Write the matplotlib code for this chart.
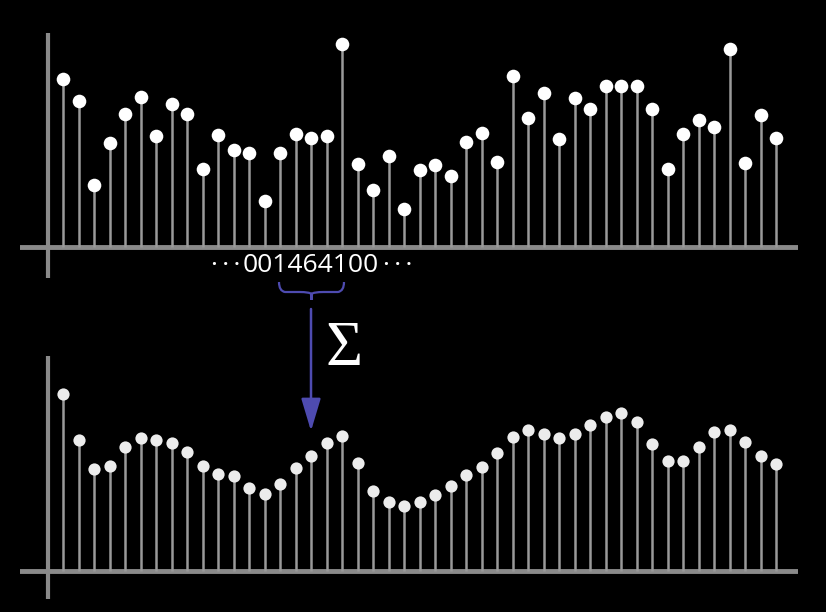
import numpy as np
import matplotlib.pyplot as plt
from matplotlib.path import Path
from matplotlib.patches import PathPatch

# raw signal (top) and smoothed by 1-4-6-4-1 kernel (bottom)
raw = [168, 146, 62, 104, 133, 150, 111, 143, 133, 78, 112, 97, 94, 46, 94, 113,
       109, 111, 203, 83, 57, 91, 38, 77, 82, 71, 105, 114, 85, 171, 129, 154,
       108, 149, 138, 161, 161, 161, 138, 78, 113, 127, 120, 198, 84, 132, 109]
smooth = [177, 131, 102, 105, 124, 133, 131, 128, 119, 105, 97, 95, 83, 77, 87, 103,
          115, 128, 135, 108, 80, 69, 65, 69, 76, 85, 96, 104, 118, 134, 141, 137,
          133, 137, 146, 154, 158, 149, 127, 110, 110, 124, 139, 141, 129, 115, 107]
kernel_txt = "001464100"
dots = "\u00b7\u2009\u00b7\u2009\u00b7"

W, H = 826, 612
fig = plt.figure(figsize=(W / 100, H / 100), dpi=100)
fig.patch.set_facecolor("black")

x = np.arange(len(raw))
grey = "#8a8a8a"
pitch = 15.5  # px between stems


def panel(top_px, bot_px, base_px, vals, mcol, msize):
    ax = fig.add_axes([20 / W, 1 - bot_px / H, 778 / W, (bot_px - top_px) / H])
    ax.set_facecolor("black")
    ax.set_xlim(-(63 - 20) / pitch, 46 + (798 - 776) / pitch)
    ax.set_ylim(-(bot_px - base_px), base_px - top_px)
    ax.axis("off")
    ax.axhline(0, color=grey, lw=3.5, zorder=1)
    ax.axvline(-(63 - 48) / pitch, color=grey, lw=3, zorder=1)
    ax.vlines(x, 0, vals, color="#9a9a9a", lw=1.8, zorder=2)
    ax.plot(x, vals, "o", color=mcol, ms=msize, mec="none", zorder=3)
    return ax


ax1 = panel(33, 278, 246.7, raw, "white", 9.8)
ax2 = panel(356, 599, 570.5, smooth, "#ececec", 8.8)

# overlay in pixel coordinates for the annotation
ov = fig.add_axes([0, 0, 1, 1])
ov.set_xlim(0, W)
ov.set_ylim(H, 0)
ov.axis("off")

fam = ["Open Sans", "DejaVu Sans"]
ov.text(311, 266, kernel_txt, color="white", fontsize=19, family=fam,
        ha="center", va="center")
ov.text(240, 266, dots, color="white", fontsize=19, family=fam,
        ha="right", va="center")
ov.text(383, 266, dots, color="white", fontsize=19, family=fam,
        ha="left", va="center")

purple = "#4e4bb0"
# brace under "14641"
l, r, m = 279, 344, 311.5
y0, y1, y2 = 282, 292, 300
verts = [(l, y0), (l, y1 - 1), (l + 6, y1), (m - 12, y1),
         (m - 2, y1), (m, y1 + 2), (m, y2),
         (m, y1 + 2), (m + 2, y1), (m + 12, y1),
         (r - 6, y1), (r, y1 - 1), (r, y0)]
codes = [Path.MOVETO, Path.CURVE3, Path.CURVE3, Path.LINETO,
         Path.CURVE3, Path.CURVE3, Path.LINETO,
         Path.LINETO, Path.CURVE3, Path.CURVE3,
         Path.LINETO, Path.CURVE3, Path.CURVE3]
ov.add_patch(PathPatch(Path(verts, codes), fc="none", ec=purple, lw=1.6))

ov.annotate("", xy=(311, 431), xytext=(311, 309),
            arrowprops=dict(arrowstyle="-|>,head_length=2.0,head_width=0.6",
                            color=purple, lw=1.8, shrinkA=0, shrinkB=0))

ov.text(344, 350, "\u03a3", color="white", fontsize=46, family="Liberation Serif",
        ha="center", va="center")

fig.savefig("out.png", dpi=100, facecolor="black")
